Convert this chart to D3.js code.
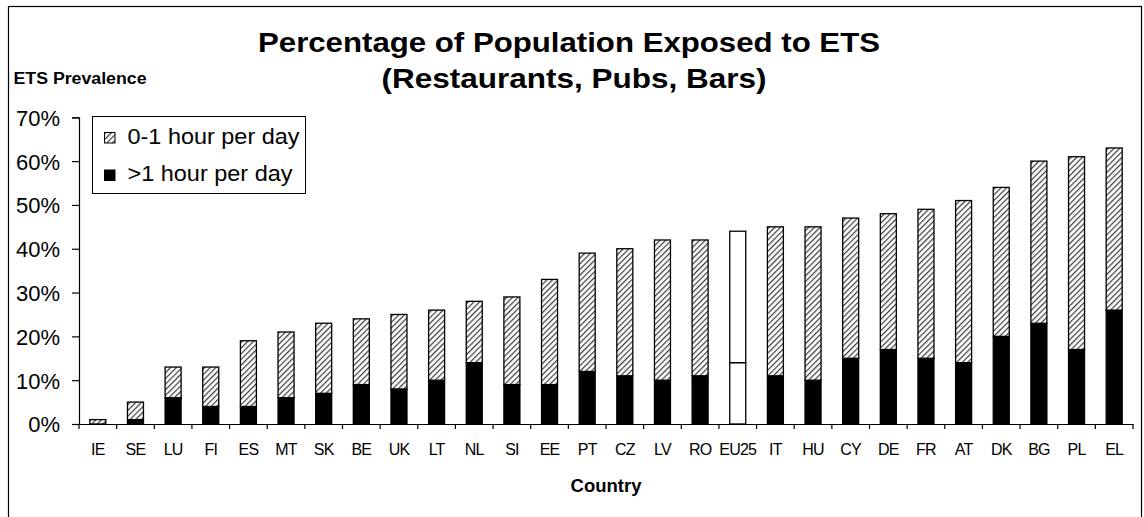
<!DOCTYPE html>
<html>
<head>
<meta charset="utf-8">
<script src="https://cdn.jsdelivr.net/npm/d3@7"></script>
<style>
  html, body { margin: 0; padding: 0; background: #fff; }
  svg { display: block; font-family: "Liberation Sans", Arial, sans-serif; }
</style>
</head>
<body>
<svg id="chart" width="1144" height="517"></svg>
<script>
// Country codes along the x axis
const categories = ["IE","SE","LU","FI","ES","MT","SK","BE","UK","LT","NL","SI","EE","PT","CZ","LV","RO","EU25","IT","HU","CY","DE","FR","AT","DK","BG","PL","EL"];
// Share exposed more than one hour per day (%)
const overOneHour = [0,1,6,4,4,6,7,9,8,10,14,9,9,12,11,10,11,14,11,10,15,17,15,14,20,23,17,26];
// Share exposed up to one hour per day (%)
const upToOneHour = [1,4,7,9,15,15,16,15,17,16,14,20,24,27,29,32,31,30,34,35,32,31,34,37,34,37,44,37];
// Y axis ticks (%)
const yTicks = [0,10,20,30,40,50,60,70];
const seriesNames = ["0-1 hour per day", ">1 hour per day"];
const averageCategory = "EU25";

const svg = d3.select("#chart");
const plot = { left: 79, right: 1133, top: 117.3, bottom: 424 };

// Outer chart frame
svg.append("rect")
  .attr("x", 8.5).attr("y", 6.5)
  .attr("width", 1133).attr("height", 520)
  .attr("fill", "#fff").attr("stroke", "#000").attr("stroke-width", 1.2);

// Diagonal hatch for the 0-1 hour series
const defs = svg.append("defs");
const pat = defs.append("pattern")
  .attr("id", "hatch").attr("patternUnits", "userSpaceOnUse")
  .attr("width", 4).attr("height", 4)
  .attr("patternTransform", "rotate(45)");
pat.append("rect").attr("width", 4).attr("height", 4).attr("fill", "#fff");
pat.append("line").attr("x1", 0).attr("y1", 0).attr("x2", 0).attr("y2", 4)
  .attr("stroke", "#3a3a3a").attr("stroke-width", 2.4);

const x = d3.scaleBand()
  .domain(categories)
  .range([plot.left, plot.right])
  .paddingInner(0.575)
  .paddingOuter(0.2875);

const y = d3.scaleLinear().domain([0, 70]).range([plot.bottom, plot.top]);

const rows = categories.map((c, i) => ({
  cat: c,
  over: overOneHour[i],
  upto: upToOneHour[i]
}));

// Black segment: more than one hour
const bars = svg.append("g");
bars.selectAll("rect.over")
  .data(rows.filter(d => d.over > 0))
  .join("rect")
  .attr("class", "over")
  .attr("x", d => x(d.cat))
  .attr("width", x.bandwidth())
  .attr("y", d => y(d.over))
  .attr("height", d => y(0) - y(d.over))
  .attr("fill", d => d.cat === averageCategory ? "#fff" : "#000")
  .attr("stroke", "#000").attr("stroke-width", 1.3);

// Hatched segment stacked on top: up to one hour
bars.selectAll("rect.upto")
  .data(rows)
  .join("rect")
  .attr("class", "upto")
  .attr("x", d => x(d.cat))
  .attr("width", x.bandwidth())
  .attr("y", d => y(d.over + d.upto))
  .attr("height", d => y(d.over) - y(d.over + d.upto))
  .attr("fill", d => d.cat === averageCategory ? "#fff" : "url(#hatch)")
  .attr("stroke", "#000").attr("stroke-width", 1.3);

// Y axis
const yAxis = svg.append("g")
  .attr("transform", `translate(${plot.left},0)`)
  .call(d3.axisLeft(y).tickValues(yTicks).tickFormat(d => d + "%").tickSize(7).tickPadding(12));
yAxis.select(".domain").attr("stroke", "#000").attr("stroke-width", 1.2);
yAxis.selectAll(".tick line").attr("stroke", "#000").attr("stroke-width", 1.2);
yAxis.selectAll(".tick text")
  .attr("font-size", 22).attr("fill", "#000")
  .attr("font-family", "Liberation Sans, Arial, sans-serif")
  .attr("dy", "0.36em");

// X axis: labels under each bar, ticks at category boundaries
const xAxis = svg.append("g")
  .attr("transform", `translate(0,${plot.bottom})`)
  .call(d3.axisBottom(x).tickSize(0).tickPadding(20));
xAxis.select(".domain").attr("stroke", "#000").attr("stroke-width", 1.2);
xAxis.selectAll(".tick text")
  .attr("font-size", 16).attr("fill", "#000")
  .attr("letter-spacing", "-0.8px")
  .attr("font-family", "Liberation Sans, Arial, sans-serif");

const step = x.step();
const boundaries = categories.map(c => x(c) - step * x.paddingInner() / 2)
  .concat([x(categories[categories.length - 1]) + x.bandwidth() + step * x.paddingInner() / 2]);
svg.append("g").selectAll("line")
  .data(boundaries)
  .join("line")
  .attr("x1", d => d).attr("x2", d => d)
  .attr("y1", plot.bottom).attr("y2", plot.bottom + 5)
  .attr("stroke", "#000").attr("stroke-width", 1.2);

// Titles
svg.append("text")
  .attr("x", 569).attr("y", 51.5)
  .attr("text-anchor", "middle")
  .attr("font-size", 28).attr("font-weight", "bold")
  .attr("textLength", 622).attr("lengthAdjust", "spacingAndGlyphs")
  .text("Percentage of Population Exposed to ETS");
svg.append("text")
  .attr("x", 574).attr("y", 88)
  .attr("text-anchor", "middle")
  .attr("font-size", 28).attr("font-weight", "bold")
  .attr("textLength", 385).attr("lengthAdjust", "spacingAndGlyphs")
  .text("(Restaurants, Pubs, Bars)");

svg.append("text")
  .attr("x", 13.5).attr("y", 84)
  .attr("font-size", 16).attr("font-weight", "bold")
  .attr("textLength", 133).attr("lengthAdjust", "spacingAndGlyphs")
  .text("ETS Prevalence");

svg.append("text")
  .attr("x", (plot.left + plot.right) / 2).attr("y", 491.5)
  .attr("text-anchor", "middle")
  .attr("font-size", 18.5).attr("font-weight", "bold")
  .text("Country");

// Legend
const legend = svg.append("g");
legend.append("rect")
  .attr("x", 92.5).attr("y", 116.5)
  .attr("width", 213).attr("height", 77)
  .attr("fill", "#fff").attr("stroke", "#000").attr("stroke-width", 1);
const legendFills = ["url(#hatch)", "#000"];
seriesNames.forEach((name, i) => {
  const yy = 132.5 + i * 37.5;
  legend.append("rect")
    .attr("x", 104.5).attr("y", yy)
    .attr("width", 10.5).attr("height", 10.5)
    .attr("fill", legendFills[i]).attr("stroke", "#000").attr("stroke-width", 1);
  legend.append("text")
    .attr("x", 127.5).attr("y", yy + 11)
    .attr("font-size", 21.5)
    .attr("textLength", i === 0 ? 172 : 165).attr("lengthAdjust", "spacingAndGlyphs")
    .text(name);
});
</script>
</body>
</html>
